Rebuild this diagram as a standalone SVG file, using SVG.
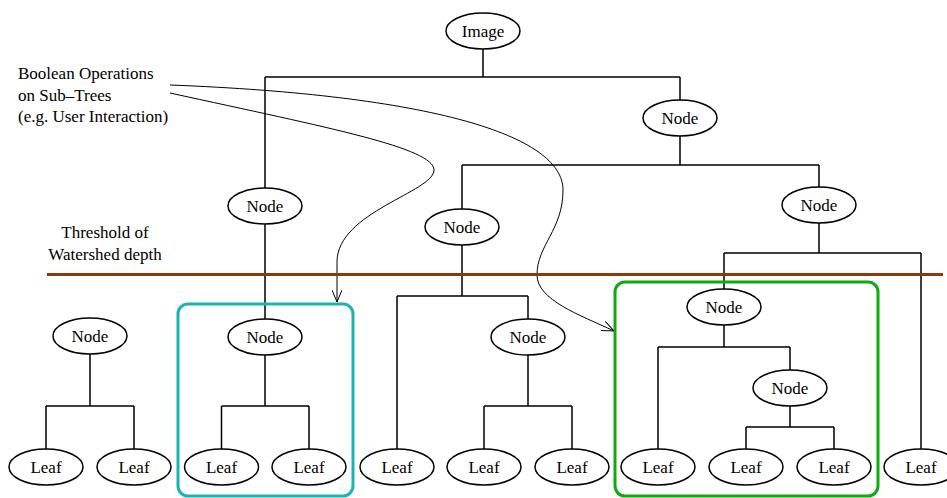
<svg xmlns="http://www.w3.org/2000/svg" width="947" height="498" viewBox="0 0 947 498" font-family="'Liberation Serif', 'DejaVu Serif', serif">
<style>
.e{fill:#fff;stroke:#000;stroke-width:1.5}
.t{font-family:'Liberation Serif','DejaVu Serif',serif;font-size:17px;fill:#000}
.c{text-anchor:middle}
.ln{fill:none;stroke:#000;stroke-width:1.5}
.cv{fill:none;stroke:#000;stroke-width:1}
</style>
<defs>
<marker id="arr" viewBox="0 0 12 10" refX="12" refY="5" markerWidth="12" markerHeight="10" markerUnits="userSpaceOnUse" orient="auto">
<path d="M0,0 L12,5 L0,10" fill="none" stroke="#000" stroke-width="1"/>
</marker>
</defs>
<rect width="947" height="498" fill="#fff"/>
<g id="connectors">
<path class="ln" d="M483,49 V77 M265,77 H680 M265,77 V188 M680,77 V100 M680,136 V165 M462,165 H819 M462,165 V209 M819,165 V187 M265,224 V319 M462,245 V296 M397,296 H528 M397,296 V449 M528,296 V319 M528,355 V406 M484,406 H572 M484,406 V449 M572,406 V449 M819,223 V253 M724,253 H921 M724,253 V289 M921,253 V449 M724,325 V347 M658,347 H790 M658,347 V449 M790,347 V370 M790,406 V427 M746,427 H834 M746,427 V449 M834,427 V449 M90,354 V406 M46,406 H134 M46,406 V449 M134,406 V449 M265,355 V406 M221.5,406 H309 M221.5,406 V449 M309,406 V449"/>
<path class="cv" d="M170,93 C330,128 434,148 434,170 C434,192 337,212 337,262 L337,302" marker-end="url(#arr)"/>
<path class="cv" d="M170,85 C430,95 563,135 563,190 C563,230 537,245 537,275 C537,300 580,315 614,331" marker-end="url(#arr)"/>
</g>
<g id="threshold">
<line x1="47" y1="274.5" x2="943" y2="274.5" stroke="#8b3a0e" stroke-width="3"/>
</g>
<g id="box-cyan">
<rect x="178" y="304" width="175" height="192" rx="10" fill="none" stroke="#1cb3b3" stroke-width="3"/>
</g>
<g id="box-green">
<rect x="615" y="282" width="263" height="214" rx="10" fill="none" stroke="#10aa10" stroke-width="3"/>
</g>
<g id="labels">
<text class="t" x="18" y="79">Boolean Operations</text>
<text class="t" x="18" y="100.5">on Sub–Trees</text>
<text class="t" x="18" y="122">(e.g. User Interaction)</text>
<text class="t c" x="105" y="238">Threshold of</text>
<text class="t c" x="105" y="260">Watershed depth</text>
</g>
<g id="n-image"><ellipse class="e" cx="483" cy="31" rx="37" ry="18"/><text class="t c" x="483" y="37">Image</text></g>
<g id="n-680-118"><ellipse class="e" cx="680" cy="118" rx="37" ry="18"/><text class="t c" x="680" y="124">Node</text></g>
<g id="n-265-206"><ellipse class="e" cx="265" cy="206" rx="37" ry="18"/><text class="t c" x="265" y="212">Node</text></g>
<g id="n-462-227"><ellipse class="e" cx="462" cy="227" rx="37" ry="18"/><text class="t c" x="462" y="233">Node</text></g>
<g id="n-819-205"><ellipse class="e" cx="819" cy="205" rx="37" ry="18"/><text class="t c" x="819" y="211">Node</text></g>
<g id="n-90-336"><ellipse class="e" cx="90" cy="336" rx="37" ry="18"/><text class="t c" x="90" y="342">Node</text></g>
<g id="n-265-337"><ellipse class="e" cx="265" cy="337" rx="37" ry="18"/><text class="t c" x="265" y="343">Node</text></g>
<g id="n-528-337"><ellipse class="e" cx="528" cy="337" rx="37" ry="18"/><text class="t c" x="528" y="343">Node</text></g>
<g id="n-724-307"><ellipse class="e" cx="724" cy="307" rx="37" ry="18"/><text class="t c" x="724" y="313">Node</text></g>
<g id="n-790-388"><ellipse class="e" cx="790" cy="388" rx="37" ry="18"/><text class="t c" x="790" y="394">Node</text></g>
<g id="leaf-1"><ellipse class="e" cx="46" cy="467" rx="37" ry="18"/><text class="t c" x="46" y="473">Leaf</text></g>
<g id="leaf-2"><ellipse class="e" cx="134" cy="467" rx="37" ry="18"/><text class="t c" x="134" y="473">Leaf</text></g>
<g id="leaf-3"><ellipse class="e" cx="221.5" cy="467" rx="37" ry="18"/><text class="t c" x="221.5" y="473">Leaf</text></g>
<g id="leaf-4"><ellipse class="e" cx="309" cy="467" rx="37" ry="18"/><text class="t c" x="309" y="473">Leaf</text></g>
<g id="leaf-5"><ellipse class="e" cx="397" cy="467" rx="37" ry="18"/><text class="t c" x="397" y="473">Leaf</text></g>
<g id="leaf-6"><ellipse class="e" cx="484" cy="467" rx="37" ry="18"/><text class="t c" x="484" y="473">Leaf</text></g>
<g id="leaf-7"><ellipse class="e" cx="572" cy="467" rx="37" ry="18"/><text class="t c" x="572" y="473">Leaf</text></g>
<g id="leaf-8"><ellipse class="e" cx="658" cy="467" rx="37" ry="18"/><text class="t c" x="658" y="473">Leaf</text></g>
<g id="leaf-9"><ellipse class="e" cx="746" cy="467" rx="37" ry="18"/><text class="t c" x="746" y="473">Leaf</text></g>
<g id="leaf-10"><ellipse class="e" cx="834" cy="467" rx="37" ry="18"/><text class="t c" x="834" y="473">Leaf</text></g>
<g id="leaf-11"><ellipse class="e" cx="921" cy="467" rx="37" ry="18"/><text class="t c" x="921" y="473">Leaf</text></g>
</svg>
